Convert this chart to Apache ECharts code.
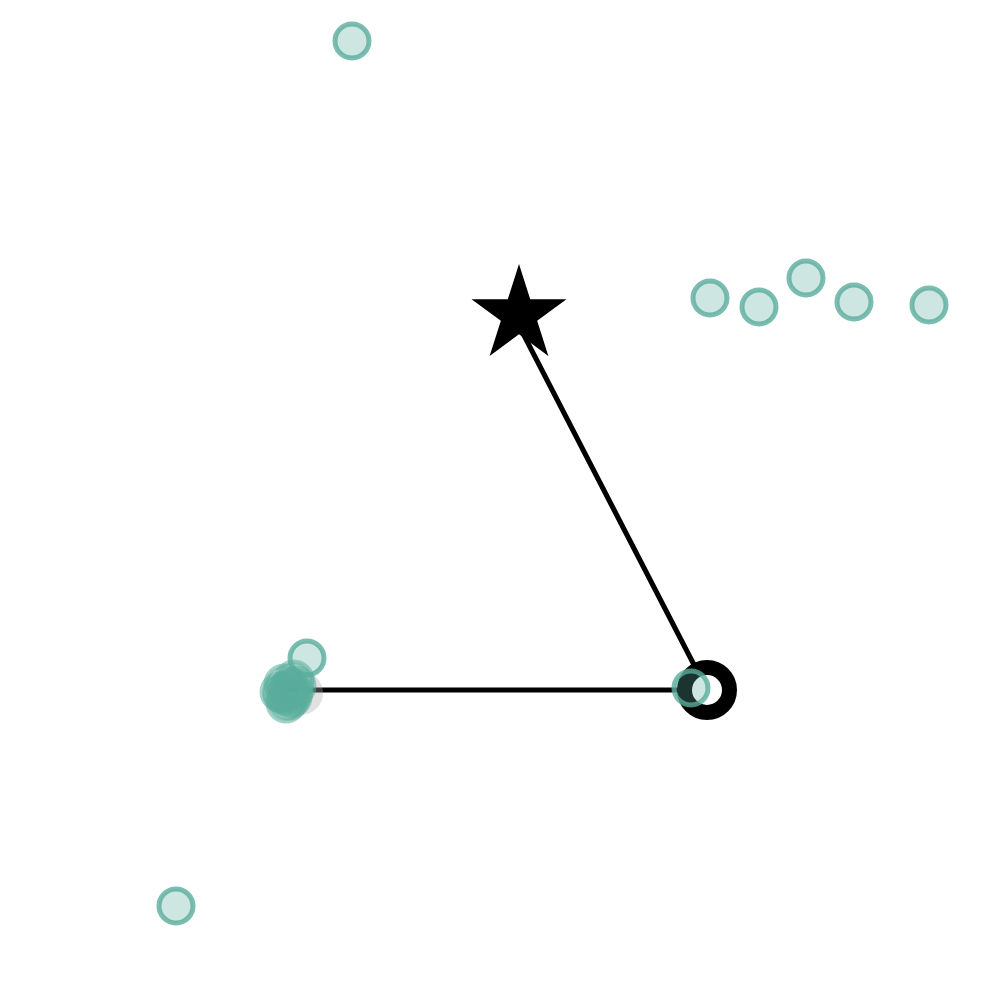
<!DOCTYPE html>
<html>
<head>
<meta charset="utf-8">
<script src="https://cdn.jsdelivr.net/npm/echarts@6/dist/echarts.min.js"></script>
<style>html,body{margin:0;padding:0;background:#fff;}#c{width:1000px;height:1000px;}</style>
</head>
<body>
<div id="c"></div>
<script>
// Scattered points (x, y in picture-space units, y downward)
const outlierPoints = [[352, 41], [710, 298], [759, 307], [806, 278], [854, 302], [929, 305], [176, 906], [307, 658], [691, 688]];
const clusterPoints = [[288, 690], [284, 684], [292, 697], [286, 703], [280, 692], [294, 680], [290, 688], [287, 695], [296, 686], [293, 692], [289, 700], [283, 694]];
const shadowPoint = [[301, 693]];
// Path: cluster -> ring -> star
const pathPoints = [[288, 690], [707, 690], [515, 318]];
const ringPoint = [[707, 690]];
const starPoint = [[519, 310]];

const STAR = 'path://M50 0 L61.23 34.55 L97.55 34.55 L68.17 55.9 L79.39 90.45 L50 69.1 L20.61 90.45 L31.83 55.9 L2.45 34.55 L38.77 34.55 Z';
const teal = 'rgba(90,173,156,0.3)';
const tealBorder = 'rgba(90,173,156,0.8)';

const chart = echarts.init(document.getElementById('c'), null, {renderer: 'canvas'});
chart.setOption({
  animation: false,
  grid: {left: 0, right: 0, top: 0, bottom: 0, containLabel: false},
  xAxis: {type: 'value', min: 0, max: 1000, show: false},
  yAxis: {type: 'value', min: 0, max: 1000, inverse: true, show: false},
  series: [
    {type: 'line', data: pathPoints, symbol: 'none', lineStyle: {color: '#000', width: 5}, z: 1},
    {type: 'scatter', data: shadowPoint, symbol: 'circle', symbolSize: 44,
      itemStyle: {color: 'rgba(170,170,170,0.35)', opacity: 1}, z: 2},
    {type: 'scatter', data: clusterPoints, symbol: 'circle', symbolSize: 36,
      itemStyle: {color: teal, borderColor: 'rgba(90,173,156,0.55)', borderWidth: 5, opacity: 1}, z: 3},
    {type: 'scatter', data: starPoint, symbol: STAR, symbolSize: [95, 92],
      itemStyle: {color: '#000', opacity: 1}, z: 4},
    {type: 'scatter', data: ringPoint, symbol: 'circle', symbolSize: 45,
      itemStyle: {color: '#fff', borderColor: '#000', borderWidth: 15, opacity: 1}, z: 5},
    {type: 'scatter', data: outlierPoints, symbol: 'circle', symbolSize: 34,
      itemStyle: {color: teal, borderColor: tealBorder, borderWidth: 5, opacity: 1}, z: 6}
  ]
});
</script>
</body>
</html>
